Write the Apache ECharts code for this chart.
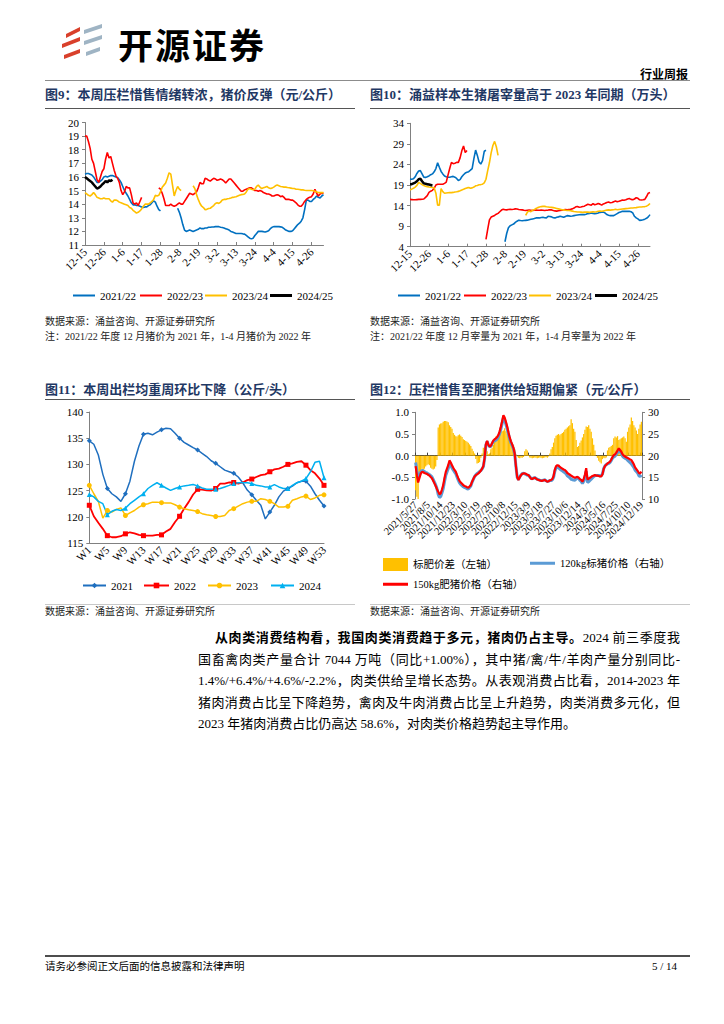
<!DOCTYPE html>
<html><head><meta charset="utf-8">
<script src="https://cdn.jsdelivr.net/npm/echarts@6/dist/echarts.min.js"></script>
<style>
html,body{margin:0;padding:0;background:#fff;}
#page{position:relative;width:724px;height:1024px;overflow:hidden;background:#fff;}
#chart{position:absolute;left:0;top:0;width:724px;height:1024px;}
.t{position:absolute;white-space:nowrap;font-family:"Liberation Serif","Noto Sans CJK SC",serif;color:#000;}
.title{font-size:13px;font-weight:bold;color:#1f3864;line-height:16px;}
.src{font-size:10px;line-height:12px;color:#222;}
.hl{position:absolute;height:0;border-top:1px solid #8c8c8c;}
.p{font-size:13px;line-height:16px;text-align:justify;text-align-last:justify;}
</style></head>
<body><div id="page">
<div id="chart"></div>
<svg style="position:absolute;left:0;top:0" width="120" height="80">
<polygon points="66,34 80,27 80,31 66,38" fill="#d9402b"/>
<polygon points="62,44 80,37 80,41 62,48" fill="#d9402b"/>
<polygon points="64,55 80,49 80,53 64,59" fill="#d9402b"/>
<polygon points="84,30 102,24 102,28 84,34" fill="#9fb4c4"/>
<polygon points="84,41 102,35 102,39 84,45" fill="#9fb4c4"/>
<polygon points="86,52 100,47 100,51 86,56" fill="#9fb4c4"/>
</svg>
<div class="t" style="left:118px;top:24px;font-size:35px;line-height:40px;font-weight:bold;letter-spacing:2px;font-family:'Noto Sans CJK SC';">开源证券</div>
<div class="t" style="left:640px;top:67px;font-size:12px;line-height:14px;font-weight:bold;font-family:'Noto Sans CJK SC';">行业周报</div>
<div class="hl" style="left:45px;top:80px;width:645px;"></div>

<div class="t title" style="left:45px;top:87px;">图9：本周压栏惜售情绪转浓，猪价反弹（元/公斤）</div>
<div class="hl" style="left:45px;top:108px;width:310px;border-color:#555;"></div>
<div class="t title" style="left:370px;top:87px;">图10：涌益样本生猪屠宰量高于 2023 年同期（万头）</div>
<div class="hl" style="left:370px;top:108px;width:320px;border-color:#555;"></div>
<div class="t src" style="left:45px;top:316px;">数据来源：涌益咨询、开源证券研究所</div>
<div class="t src" style="left:45px;top:331px;">注：2021/22 年度 12 月猪价为 2021 年，1-4 月猪价为 2022 年</div>
<div class="t src" style="left:370px;top:316px;">数据来源：涌益咨询、开源证券研究所</div>
<div class="t src" style="left:370px;top:331px;">注：2021/22 年度 12 月宰量为 2021 年，1-4 月宰量为 2022 年</div>

<div class="t title" style="left:45px;top:382px;">图11：本周出栏均重周环比下降（公斤/头）</div>
<div class="hl" style="left:45px;top:399px;width:310px;border-color:#555;"></div>
<div class="t title" style="left:370px;top:382px;">图12：压栏惜售至肥猪供给短期偏紧（元/公斤）</div>
<div class="hl" style="left:370px;top:399px;width:320px;border-color:#555;"></div>
<div class="hl" style="left:45px;top:604px;width:310px;border-color:#c8c8c8;"></div>
<div class="hl" style="left:370px;top:604px;width:320px;border-color:#c8c8c8;"></div>
<div class="t src" style="left:45px;top:606px;">数据来源：涌益咨询、开源证券研究所</div>
<div class="t src" style="left:370px;top:606px;">数据来源：涌益咨询、开源证券研究所</div>

<div class="t p" style="left:215px;top:630px;width:465px;"><b>从肉类消费结构看，我国肉类消费趋于多元，猪肉仍占主导。</b>2024 前三季度我</div>
<div class="t p" style="left:198px;top:652px;width:482px;">国畜禽肉类产量合计 7044 万吨（同比+1.00%），其中猪/禽/牛/羊肉产量分别同比-</div>
<div class="t p" style="left:198px;top:673px;width:482px;">1.4%/+6.4%/+4.6%/-2.2%，肉类供给呈增长态势。从表观消费占比看，2014-2023 年</div>
<div class="t p" style="left:198px;top:695px;width:482px;">猪肉消费占比呈下降趋势，禽肉及牛肉消费占比呈上升趋势，肉类消费多元化，但</div>
<div class="t" style="left:198px;top:716px;font-size:13px;line-height:16px;">2023 年猪肉消费占比仍高达 58.6%，对肉类价格趋势起主导作用。</div>

<div class="hl" style="left:45px;top:955px;width:645px;border-top:2px solid #4d4d4d;"></div>
<div class="t" style="left:45px;top:960px;font-size:10.5px;line-height:13px;">请务必参阅正文后面的信息披露和法律声明</div>
<div class="t" style="left:652px;top:960px;font-size:11px;line-height:13px;">5 / 14</div>
</div>
<script>
// ---------- Chart 9 / 10 : daily categories ----------
const c9Days = ['12-15','12-16','12-17','12-18','12-19','12-20','12-21','12-22','12-23','12-24','12-25','12-26','12-27','12-28','12-29','12-30','12-31',
'1-1','1-2','1-3','1-4','1-5','1-6','1-7','1-8','1-9','1-10','1-11','1-12','1-13','1-14','1-15','1-16','1-17','1-18','1-19','1-20','1-21','1-22','1-23','1-24','1-25','1-26','1-27','1-28','1-29','1-30','1-31',
'2-1','2-2','2-3','2-4','2-5','2-6','2-7','2-8','2-9','2-10','2-11','2-12','2-13','2-14','2-15','2-16','2-17','2-18','2-19','2-20','2-21','2-22','2-23','2-24','2-25','2-26','2-27','2-28',
'3-1','3-2','3-3','3-4','3-5','3-6','3-7','3-8','3-9','3-10','3-11','3-12','3-13','3-14','3-15','3-16','3-17','3-18','3-19','3-20','3-21','3-22','3-23','3-24','3-25','3-26','3-27','3-28','3-29','3-30','3-31',
'4-1','4-2','4-3','4-4','4-5','4-6','4-7','4-8','4-9','4-10','4-11','4-12','4-13','4-14','4-15','4-16','4-17','4-18','4-19','4-20','4-21','4-22','4-23','4-24','4-25','4-26','4-27','4-28','4-29','4-30',
'5-1','5-2','5-3'];
const N = null;
// Chart 9: price (元/公斤)
const p2122 = [16.2,16.25,16.25,16.2,16.15,16.0,15.8,15.6,15.6,15.7,
15.8,16.0,16.05,16.0,16.05,16.1,16.1,16.05,16.0,15.95,
15.8,15.6,15.3,15.0,14.8,14.6,14.35,14.1,13.95,13.95,
13.9,13.9,13.85,13.8,13.75,13.8,13.8,13.9,13.95,14.1,
14.25,14.15,13.85,13.6,13.5,
N,N,N,N,N,N,N,N,N,
13.7,13.4,13.0,12.5,12.1,12.0,
12.05,12.1,12.05,12.0,12.05,12.1,12.15,12.25,12.2,12.2,
12.25,12.25,12.3,12.3,12.32,12.32,12.35,12.35,12.35,12.3,
12.28,12.25,12.2,12.15,12.1,12.0,11.95,11.9,11.85,11.85,
11.85,11.85,11.82,11.8,11.7,11.6,11.5,11.45,11.5,11.7,
11.85,12.0,12.0,12.0,11.98,11.95,12.0,12.05,12.2,12.3,
12.35,12.35,12.35,12.35,12.33,12.3,12.2,12.1,12.05,12.0,
12.0,12.05,12.2,12.35,12.5,12.6,12.75,13.0,13.6,14.3,
14.3,14.2,14.2,14.35,14.45,14.6,14.5,14.45,14.6,14.7];
const p2223 = [19.0,19.0,18.6,18.1,17.3,17.0,16.4,15.8,15.6,16.0,
16.4,16.6,17.3,17.8,17.4,17.5,17.0,16.5,16.1,15.9,
15.6,15.0,14.7,14.9,15.3,15.2,15.2,14.7,14.1,14.0,
14.1,13.9,14.2,14.5,
N,N,N,N,N,N,N,N,N,
15.2,15.1,14.8,14.4,13.9,13.9,13.9,
14.0,13.9,13.85,13.9,14.0,14.1,14.0,14.0,14.2,14.4,
14.6,14.8,14.75,14.7,14.8,14.9,15.2,15.6,15.5,15.5,
15.9,15.85,15.75,15.7,15.8,15.9,15.85,15.75,15.8,15.85,
15.8,15.7,15.55,15.7,15.85,15.85,15.7,15.55,15.4,15.25,
15.1,14.95,14.95,15.05,15.1,15.15,15.2,15.2,15.1,15.0,
15.0,14.95,15.0,14.95,14.85,14.8,14.75,14.75,14.7,14.6,
14.6,14.65,14.7,14.65,14.55,14.6,14.5,14.35,14.35,14.35,
14.3,14.3,14.2,14.1,13.95,13.85,13.85,14.0,14.2,14.35,
14.45,14.5,14.55,14.75,15.1,14.8,14.6,14.75,14.8,14.8];
const p2324 = [14.85,14.75,14.65,14.6,14.7,14.85,14.7,14.5,14.45,14.4,
14.4,14.45,14.4,14.4,14.4,14.25,14.15,14.3,14.3,14.25,
14.15,14.1,14.05,14.0,13.95,13.9,13.75,13.7,13.55,13.45,
13.35,13.4,13.5,13.65,13.85,14.0,14.0,14.0,14.1,14.2,
14.35,14.65,14.6,14.65,14.9,15.25,15.4,15.55,15.9,16.3,
16.2,15.4,14.6,15.0,15.3,15.1,15.0,
N,N,N,N,N,N,
15.35,15.15,14.7,14.35,14.05,13.85,13.75,
13.6,13.62,13.68,13.7,13.8,13.9,14.05,14.1,14.05,14.15,
14.3,14.35,14.35,14.4,14.42,14.45,14.5,14.52,14.55,14.6,
14.65,14.7,14.72,14.75,14.9,15.1,15.15,15.1,15.05,15.1,
15.3,15.4,15.25,15.15,15.2,15.25,15.3,15.2,15.15,15.18,
15.25,15.35,15.4,15.35,15.3,15.28,15.25,15.25,15.22,15.2,
15.18,15.15,15.15,15.1,15.1,15.08,15.05,15.05,15.02,15.0,
15.0,15.0,15.0,14.98,14.95,14.9,14.85,14.85,14.85,14.85];
const p2425 = [16.0,15.9,15.8,15.7,15.6,15.45,15.3,15.15,15.2,15.3,15.45,15.55,15.7,15.6,15.75,15.7,15.8];

// Chart 10: slaughter volume (万头)
const s2122 = [20.45,20.4,20.5,21.0,21.8,22.4,22.5,21.7,20.9,20.85,
21.0,21.2,21.5,21.7,22.2,23.0,24.4,23.3,22.3,21.7,
21.2,21.0,20.9,20.9,21.0,21.1,20.9,20.6,20.1,20.3,
21.0,21.5,21.9,22.1,22.25,22.6,23.0,25.4,27.5,26.2,
24.6,24.1,24.9,27.2,27.45,
N,N,N,N,N,N,N,N,N,N,
5.2,7.2,8.6,9.1,9.3,
9.5,9.9,10.2,10.45,10.35,10.3,10.35,10.4,10.45,10.55,
10.65,10.75,10.85,11.0,11.0,11.0,11.1,11.15,11.05,11.0,
11.4,11.35,11.25,11.05,11.0,11.15,11.25,11.4,11.3,11.15,
11.35,11.55,11.5,11.4,11.45,11.55,11.65,11.7,11.75,11.8,
11.8,11.8,11.9,12.05,12.1,12.2,12.1,12.05,12.1,12.2,
12.35,12.4,12.4,12.2,11.8,11.65,11.55,11.55,11.55,11.8,
12.05,12.3,12.45,12.6,12.6,12.6,12.6,12.6,12.5,12.2,
11.4,11.0,10.75,10.4,10.45,10.55,10.7,10.9,11.25,11.8];
const s2223 = [15.5,15.45,15.4,15.4,15.45,15.5,15.5,15.55,15.6,16.0,
16.4,17.2,17.5,17.7,18.2,19.0,19.2,19.2,19.2,19.2,
19.4,19.7,21.4,23.0,24.5,24.2,24.3,24.5,24.5,25.6,
27.3,28.5,26.9,27.4,
N,N,N,N,N,N,N,N,N,N,
5.8,8.2,10.5,11.2,11.4,11.6,
11.9,12.1,12.5,12.9,13.1,13.0,12.95,13.05,13.1,13.05,
13.1,13.2,13.15,13.05,13.0,12.95,12.85,12.8,12.85,12.9,
12.85,12.8,12.85,12.9,12.85,12.85,12.9,12.85,12.8,12.85,
12.9,13.0,12.95,12.8,12.7,12.65,12.75,12.8,12.85,13.0,
13.05,13.0,13.05,13.1,13.2,13.4,13.7,13.75,13.6,13.65,
13.75,13.85,14.1,14.3,14.2,14.1,14.45,14.2,14.3,14.5,
14.35,14.1,14.4,14.55,14.75,14.85,14.7,14.75,14.95,15.1,
14.95,15.05,15.2,15.35,15.3,15.4,15.6,15.7,15.5,15.4,
15.6,15.9,15.75,15.4,15.35,15.4,15.5,16.2,17.0,17.15];
const s2324 = [17.8,18.0,18.2,18.5,18.9,19.6,19.4,19.1,18.85,18.7,
18.6,18.5,18.45,18.4,18.3,17.0,14.1,14.1,18.1,17.4,
17.0,17.05,17.1,17.15,17.15,17.2,17.3,17.35,17.45,17.6,
17.8,17.95,18.15,18.3,18.4,18.2,18.3,18.5,18.8,18.9,
19.05,19.1,19.2,19.5,20.4,22.5,24.4,26.8,28.6,29.6,
28.3,26.2,
N,N,N,N,N,N,N,N,N,N,N,N,N,N,N,
11.6,12.4,12.7,
12.5,12.9,13.0,13.3,13.5,13.65,13.75,13.8,13.8,13.7,
13.65,13.6,13.55,13.5,13.4,13.3,13.2,13.1,13.0,12.95,
12.85,12.8,12.8,12.75,12.65,12.55,12.5,12.45,12.45,12.4,
12.35,12.4,12.45,12.4,12.35,12.45,12.5,12.45,12.5,12.6,
12.65,12.6,12.7,12.8,12.9,12.95,12.9,12.95,13.0,13.1,
13.0,13.05,13.1,13.15,13.2,13.25,13.3,13.35,13.4,13.4,
13.45,13.5,13.6,13.65,13.65,13.7,13.75,13.85,14.1,14.5];
const s2425 = [19.2,19.2,19.4,19.6,19.9,20.4,20.5,19.9,19.4,19.3,19.2,19.1,19.0,18.9];

// ---------- Chart 11: weekly weight (公斤/头) ----------
const weeks = ['W1','W2','W3','W4','W5','W6','W7','W8','W9','W10','W11','W12','W13','W14','W15','W16','W17','W18','W19','W20',
'W21','W22','W23','W24','W25','W26','W27','W28','W29','W30','W31','W32','W33','W34','W35','W36','W37','W38','W39','W40',
'W41','W42','W43','W44','W45','W46','W47','W48','W49','W50','W51','W52','W53'];
const w2021 = [134.5,133.85,131.8,128.1,125.4,124.4,123.8,122.95,124.4,126.8,130.6,133.5,135.75,135.95,135.65,136.15,136.6,136.9,136.8,135.95,
135.0,134.2,133.7,133.2,132.75,132.1,131.5,130.7,130.2,129.55,128.9,128.6,128.3,127.6,126.5,125.1,124.2,123.15,122.2,119.6,
120.9,122.2,123.8,124.9,125.4,125.85,126.5,126.8,126.8,125.85,124.4,123.15,122.05];
const w2022 = [122.2,120.1,118.85,117.7,116.4,116.1,116.1,116.3,116.75,117.05,116.85,116.55,116.4,116.4,116.4,116.55,116.55,117.2,117.7,119.0,
120.1,121.55,122.8,124.25,125.25,125.2,125.05,125.0,125.4,126.35,126.35,126.55,126.55,126.35,126.55,127.0,127.2,127.6,127.95,128.1,
128.6,129.05,129.2,129.55,130.0,130.2,130.5,130.6,129.85,128.9,128.3,127.3,126.0];
const w2023 = [126.0,124.4,122.95,119.75,121.2,120.9,121.4,121.7,120.25,120.75,121.2,121.85,122.3,122.5,122.8,122.8,122.7,122.65,122.65,122.3,
121.85,121.55,121.35,121.2,121.0,120.6,120.4,120.25,120.05,120.05,120.25,121.2,121.55,122.05,122.5,122.8,122.95,122.95,123.45,123.3,
122.95,122.5,121.85,121.85,122.0,123.15,123.45,123.8,123.95,123.3,123.6,124.1,124.2];
const w2024 = [124.25,123.8,122.95,122.5,120.4,121.05,121.4,121.2,121.65,122.5,123.15,123.8,124.4,125.4,126.0,126.5,126.0,125.5,125.05,125.4,
125.7,125.9,126.0,126.15,125.9,125.5,125.25,125.25,125.25,125.4,125.7,126.0,126.35,126.5,126.5,126.5,126.35,126.0,125.9,125.7,
125.7,126.15,125.7,125.4,125.4,126.0,126.5,126.8,127.3,128.6,130.4,130.6,127.45];

// ---------- Chart 12: weekly prices ----------
const dates12 = ['2021/5/27','2021/6/3','2021/6/10','2021/6/17','2021/6/24','2021/7/1','2021/7/8','2021/7/15','2021/7/22','2021/7/29',
'2021/8/5','2021/8/12','2021/8/19','2021/8/26','2021/9/2','2021/9/9','2021/9/16','2021/9/23','2021/9/30','2021/10/9',
'2021/10/14','2021/10/21','2021/10/28','2021/11/4','2021/11/11','2021/11/18','2021/11/25','2021/12/2','2021/12/9','2021/12/16',
'2021/12/23','2021/12/30','2022/1/6','2022/1/13','2022/1/20','2022/1/27','2022/2/10','2022/2/17','2022/2/24','2022/3/3',
'2022/3/10','2022/3/17','2022/3/24','2022/3/31','2022/4/7','2022/4/14','2022/4/21','2022/4/28','2022/5/5','2022/5/12',
'2022/5/19','2022/5/26','2022/6/2','2022/6/9','2022/6/16','2022/6/23','2022/6/30','2022/7/7','2022/7/14','2022/7/21',
'2022/7/28','2022/8/4','2022/8/11','2022/8/18','2022/8/25','2022/9/1','2022/9/8','2022/9/15','2022/9/22','2022/9/29',
'2022/10/8','2022/10/13','2022/10/20','2022/10/27','2022/11/3','2022/11/10','2022/11/17','2022/11/24','2022/12/1','2022/12/8',
'2022/12/15','2022/12/22','2022/12/29','2023/1/5','2023/1/12','2023/1/19','2023/2/9','2023/2/16','2023/2/23','2023/3/2',
'2023/3/9','2023/3/16','2023/3/23','2023/3/30','2023/4/6','2023/4/13','2023/4/20','2023/4/27','2023/5/4','2023/5/11',
'2023/5/18','2023/5/25','2023/6/1','2023/6/8','2023/6/15','2023/6/22','2023/6/29','2023/7/6','2023/7/13','2023/7/20',
'2023/7/27','2023/8/3','2023/8/10','2023/8/17','2023/8/24','2023/8/31','2023/9/7','2023/9/14','2023/9/21','2023/9/28',
'2023/10/6','2023/10/12','2023/10/19','2023/10/26','2023/11/2','2023/11/9','2023/11/16','2023/11/23','2023/11/30','2023/12/7',
'2023/12/14','2023/12/21','2023/12/28','2024/1/4','2024/1/11','2024/1/18','2024/1/25','2024/2/1','2024/2/22','2024/2/29',
'2024/3/7','2024/3/14','2024/3/21','2024/3/28','2024/4/3','2024/4/11','2024/4/18','2024/4/25','2024/5/2','2024/5/9',
'2024/5/16','2024/5/23','2024/5/30','2024/6/6','2024/6/13','2024/6/20','2024/6/27','2024/7/4','2024/7/11','2024/7/18',
'2024/7/25','2024/8/1','2024/8/8','2024/8/15','2024/8/22','2024/8/29','2024/9/5','2024/9/12','2024/9/19','2024/9/26',
'2024/10/10','2024/10/17','2024/10/24','2024/10/31','2024/11/7','2024/11/14','2024/11/21','2024/11/28','2024/12/5','2024/12/12',
'2024/12/19'];
const spread = [-0.8,-0.95,-1.0,-0.55,-0.35,-0.3,-0.35,-0.3,-0.25,-0.22,
-0.2,-0.22,-0.28,-0.3,-0.32,-0.3,-0.25,-0.1,0.65,0.72,
0.74,0.75,0.78,0.8,0.8,0.79,0.77,0.7,0.66,0.62,
0.52,0.48,0.45,0.44,0.47,0.49,0.46,0.43,0.38,0.36,
0.34,0.32,0.3,0.26,0.22,0.16,0.1,0.05,-0.08,-0.18,
-0.17,-0.15,-0.05,0.05,0.18,0.2,0.22,0.1,0.03,0.05,
0.15,0.18,0.25,0.38,0.44,0.45,0.44,0.5,0.55,0.56,
0.58,0.63,0.56,0.5,0.45,0.4,0.34,0.3,0.25,0.15,
0.03,-0.02,-0.05,-0.06,-0.04,-0.05,-0.03,0.1,0.15,0.12,
0.02,-0.04,-0.05,-0.06,-0.05,-0.04,-0.05,-0.06,-0.05,-0.04,
-0.05,-0.06,-0.05,-0.04,-0.03,-0.05,-0.02,0.05,0.15,0.2,
0.3,0.4,0.46,0.48,0.5,0.47,0.5,0.52,0.55,0.6,
0.62,0.65,0.68,0.7,0.84,0.75,0.62,0.55,0.36,0.2,
0.22,0.3,0.35,0.42,0.5,0.6,0.67,0.66,0.7,0.62,
0.55,0.4,0.25,0.12,0.0,-0.05,-0.12,-0.15,-0.18,-0.08,
-0.05,-0.06,-0.04,0.12,0.18,0.2,0.22,0.25,0.4,0.44,
0.42,0.45,0.36,0.38,0.4,0.42,0.44,0.4,0.32,0.55,
0.65,0.72,0.88,0.8,0.7,0.65,0.58,0.5,0.62,0.72,
0.78];
const price120 = [18.4,16.45,14.8,15.35,16.15,16.6,16.55,16.3,16.15,16.02,
15.8,15.62,15.38,15.1,14.52,13.9,13.25,12.4,11.05,10.38,
10.56,11.45,12.42,14.0,15.4,16.21,17.03,18.2,17.74,17.18,
16.68,16.22,15.85,15.06,14.33,13.71,13.34,13.07,12.82,12.64,
12.56,12.38,12.3,12.64,12.98,13.84,14.5,15.15,15.58,15.88,
16.07,16.35,16.55,16.95,17.42,19.3,22.38,23.3,22.47,22.05,
22.15,22.72,23.25,23.42,23.56,23.85,24.36,25.1,26.15,27.44,
28.72,28.17,27.24,26.2,24.95,23.8,22.96,22.3,21.55,20.35,
17.47,15.02,14.45,15.06,15.54,15.85,15.93,15.8,15.65,15.48,
15.48,15.14,14.75,14.66,14.85,14.94,14.75,14.56,14.45,14.34,
14.25,14.26,14.35,14.44,14.23,14.05,14.12,14.25,14.25,14.4,
15.0,16.4,17.14,17.32,17.2,16.93,16.7,16.48,16.25,16.1,
15.78,15.35,15.12,14.9,14.56,14.45,14.38,14.35,14.64,14.9,
14.68,14.3,14.05,13.58,14.1,15.0,16.43,13.84,14.0,14.28,
14.55,14.9,15.15,15.38,15.4,15.45,15.42,15.35,15.38,15.78,
17.05,17.66,17.94,18.08,18.22,18.4,18.88,19.45,19.7,19.86,
20.28,20.75,21.34,20.92,20.5,19.88,19.56,19.4,19.28,18.95,
18.65,18.38,18.12,17.7,17.3,16.65,16.32,16.0,15.38,15.18,
15.52];
const price150 = [17.6,15.5,13.8,14.8,15.8,16.3,16.2,16.0,15.9,15.8,
15.6,15.4,15.1,14.8,14.2,13.6,13.0,12.3,11.7,11.1,
11.3,12.2,13.2,14.8,16.2,17.0,17.8,18.9,18.4,17.8,
17.2,16.7,16.3,15.5,14.8,14.2,13.8,13.5,13.2,13.0,
12.9,12.7,12.6,12.9,13.2,14.0,14.6,15.2,15.5,15.7,
15.9,16.2,16.5,17.0,17.6,19.5,22.6,23.4,22.5,22.1,
22.3,22.9,23.5,23.8,24.0,24.3,24.8,25.6,26.7,28.0,
29.3,28.8,27.8,26.7,25.4,24.2,23.3,22.6,21.8,20.5,
17.5,15.0,14.4,15.0,15.5,15.8,15.9,15.9,15.8,15.6,
15.5,15.1,14.7,14.6,14.8,14.9,14.7,14.5,14.4,14.3,
14.2,14.2,14.3,14.4,14.2,14.0,14.1,14.3,14.4,14.6,
15.3,16.8,17.6,17.8,17.7,17.4,17.2,17.0,16.8,16.7,
16.4,16.0,15.8,15.6,15.4,15.2,15.0,14.9,15.0,15.1,
14.9,14.6,14.4,14.0,14.6,15.6,17.1,14.5,14.7,14.9,
15.1,15.3,15.4,15.5,15.4,15.4,15.3,15.2,15.2,15.7,
17.0,17.6,17.9,18.2,18.4,18.6,19.1,19.7,20.1,20.3,
20.7,21.2,21.7,21.3,20.9,20.3,20.0,19.8,19.6,19.5,
19.3,19.1,19.0,18.5,18.0,17.3,16.9,16.5,16.0,15.9,
16.3];

// ---------- styling ----------
const FN = '"Liberation Serif","Noto Sans CJK SC",serif';
const AX = '#808080';
const C = {b:'#0070C0', r:'#FF0000', y:'#FFC000', k:'#000000', lb:'#00B0F0', db:'#1F6FBF', bl120:'#5B9BD5'};
const LAST12 = dates12.length - 1;

function catAxis(grid, data, interval, fs, extra){
  return Object.assign({gridIndex:grid,type:'category',data:data,boundaryGap:false,
    axisLine:{show:true,onZero:false,lineStyle:{color:AX,width:1}},
    axisTick:{show:true,inside:true,length:3,interval:interval,lineStyle:{color:AX}},
    axisLabel:{show:true,interval:interval,rotate:45,fontSize:fs,fontFamily:FN,color:'#000',margin:5},
    splitLine:{show:false}}, extra||{});
}
function labelAxis12(intervalFn){
  return {gridIndex:3,type:'category',data:dates12,boundaryGap:true,position:'bottom',
    axisLine:{show:false,onZero:false},axisTick:{show:false},
    axisLabel:{show:true,interval:intervalFn,rotate:45,fontSize:10.5,fontFamily:FN,color:'#000',margin:4,
      showMinLabel:true,showMaxLabel:true,hideOverlap:false},splitLine:{show:false}};
}
function valAxis(grid, min, max, interval, extra){
  return Object.assign({gridIndex:grid,type:'value',min:min,max:max,interval:interval,
    axisLine:{show:true,lineStyle:{color:AX,width:1}},
    axisTick:{show:true,length:3,lineStyle:{color:AX}},
    axisLabel:{fontSize:11,fontFamily:FN,color:'#000',margin:6},
    splitLine:{show:false}}, extra||{});
}
function ln(name, xi, yi, data, color, width, extra){
  return Object.assign({type:'line',name:name,xAxisIndex:xi,yAxisIndex:yi,data:data,symbol:'none',
    lineStyle:{width:width,color:color},itemStyle:{color:color},connectNulls:false,animation:false}, extra||{});
}
function lg(name, left, top, fs, icon, w, h){
  const o = {data:[name],left:left,top:top,padding:0,itemGap:0,itemWidth:w,itemHeight:h,selectedMode:false,
    textStyle:{fontFamily:FN,fontSize:fs,color:'#000'}};
  if (icon) o.icon = icon;
  return o;
}

const option = {
  animation:false,
  textStyle:{fontFamily:FN},
  grid:[
    {left:85, top:122.5, width:238.5, height:122.5, outerBoundsMode:'none'},
    {left:410, top:123.3, width:240, height:123.4, outerBoundsMode:'none'},
    {left:89.3, top:412, width:234.7, height:131, outerBoundsMode:'none'},
    {left:415, top:412.3, width:227, height:86.7, outerBoundsMode:'none'}
  ],
  xAxis:[
    catAxis(0, c9Days, 10, 11),
    catAxis(1, c9Days, 10, 11),
    catAxis(2, weeks, 3, 11, {axisTick:{show:false}}),
    // date labels at every 10th week: split over three label axes so no label is dropped
    labelAxis12(function(i){ return i % 20 === 10; }),
    // zero line with ticks
    {gridIndex:3,type:'category',data:dates12,boundaryGap:true,position:'bottom',
      axisLine:{show:true,onZero:true,lineStyle:{color:'#404040',width:1}},
      axisTick:{show:true,inside:true,length:3,interval:9,lineStyle:{color:'#404040'}},
      axisLabel:{show:false},splitLine:{show:false}},
    labelAxis12(function(i){ return i % 20 === 0 && i !== 0 && i !== LAST12; }),
    labelAxis12(function(i){ return i === 0 || i === LAST12; })
  ],
  yAxis:[
    valAxis(0, 11, 20, 1),
    valAxis(1, 4, 34, 5),
    valAxis(2, 115, 140, 5),
    valAxis(3, -1, 1, 0.5, {position:'left', axisLabel:{fontSize:11,fontFamily:FN,color:'#000',margin:6,formatter:v=>v.toFixed(1)}}),
    valAxis(3, 10, 30, 5, {position:'right'})
  ],
  legend:[
    lg('2021/22', 73, 290, 11, 'rect', 22, 2),
    lg('2022/23', 140, 290, 11, 'rect', 22, 2),
    lg('2023/24', 205, 290, 11, 'rect', 22, 2),
    lg('2024/25', 270, 290, 11, 'rect', 22, 3),
    lg('2021/22', 398, 290, 11, 'rect', 22, 2),
    lg('2022/23', 464, 290, 11, 'rect', 22, 2),
    lg('2023/24', 529, 290, 11, 'rect', 22, 2),
    lg('2024/25', 595, 290, 11, 'rect', 22, 3),
    lg('2021', 82, 580, 11, null, 23, 7),
    lg('2022', 143, 580, 11, null, 25, 7),
    lg('2023', 207, 580, 11, null, 23, 7),
    lg('2024', 270, 580, 11, null, 23, 7),
    lg('标肥价差（左轴）', 383, 558, 10.5, 'rect', 25, 13),
    lg('120kg标猪价格（右轴）', 530, 558, 10.5, 'rect', 25, 3),
    lg('150kg肥猪价格（右轴）', 383, 579, 10.5, 'rect', 25, 3)
  ],
  series:[
    ln('2021/22',0,0,p2122,C.b,1.6),
    ln('2022/23',0,0,p2223,C.r,1.6),
    ln('2023/24',0,0,p2324,C.y,1.6),
    ln('2024/25',0,0,p2425,C.k,2.5),
    ln('2021/22',1,1,s2122,C.b,1.6),
    ln('2022/23',1,1,s2223,C.r,1.6),
    ln('2023/24',1,1,s2324,C.y,1.6),
    ln('2024/25',1,1,s2425,C.k,2.5),
    ln('2021',2,2,w2021,C.db,1.5,{symbol:'diamond',symbolSize:5,showSymbol:true}),
    ln('2022',2,2,w2022,C.r,1.8,{symbol:'rect',symbolSize:5,showSymbol:true}),
    ln('2023',2,2,w2023,C.y,1.5,{symbol:'circle',symbolSize:5,showSymbol:true}),
    ln('2024',2,2,w2024,C.lb,1.5,{symbol:'triangle',symbolSize:5,showSymbol:true}),
    {type:'bar',name:'标肥价差（左轴）',xAxisIndex:3,yAxisIndex:3,data:spread,barCategoryGap:'0%',
      itemStyle:{color:C.y},animation:false},
    ln('120kg标猪价格（右轴）',3,4,price120,C.bl120,3),
    ln('150kg肥猪价格（右轴）',3,4,price150,C.r,2.2)
  ]
};
const chart = echarts.init(document.getElementById('chart'), null, {renderer:'svg', width:724, height:1024});
chart.setOption(option);
</script>
</body></html>
